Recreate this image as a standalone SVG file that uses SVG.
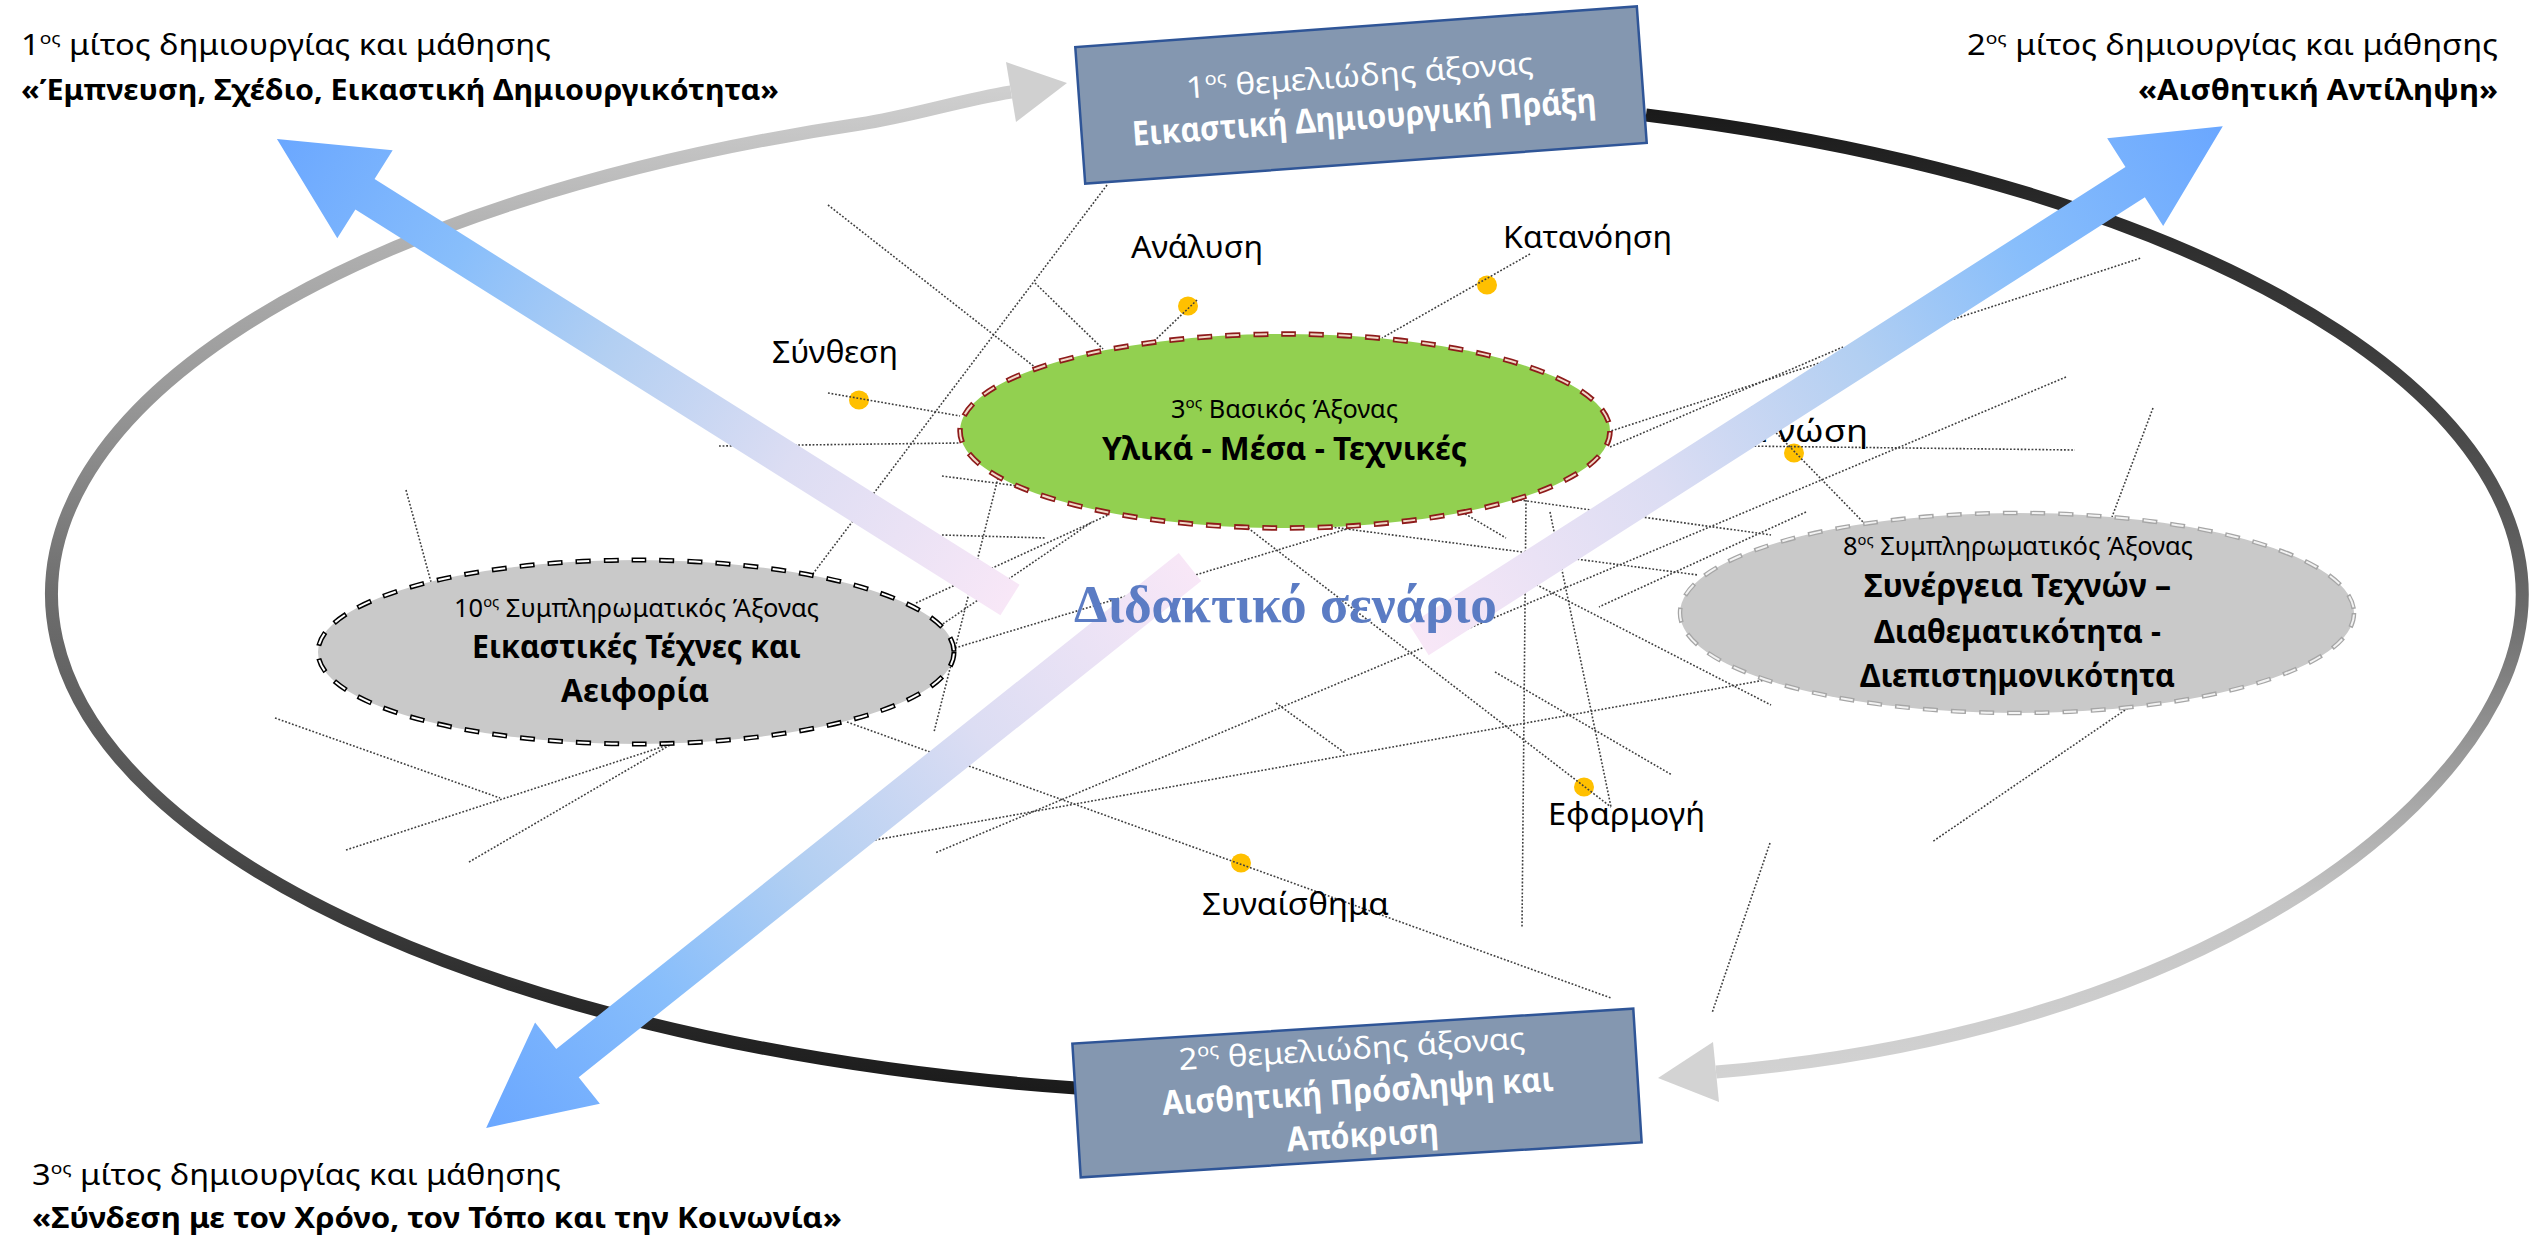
<svg xmlns="http://www.w3.org/2000/svg" width="2537" height="1237" viewBox="0 0 2537 1237">
<style>
.t{font-family:"Noto Sans","Open Sans","DejaVu Sans",sans-serif;fill:#000}
.b{font-weight:bold}
.w{fill:#fff}
.dot{stroke:#3f3f3f;stroke-width:1.6;stroke-dasharray:1.8 1.8;fill:none}
.yd{fill:#FFC000}
.box{fill:#8497B0;stroke:#2F5597;stroke-width:2.5}
.gray{fill:#C9C9C9}
</style>
<defs>
<linearGradient id="gR" gradientUnits="userSpaceOnUse" x1="0" y1="110" x2="0" y2="1100">
<stop offset="0" stop-color="#1a1a1a"/><stop offset="0.1" stop-color="#2a2a2a"/><stop offset="0.3" stop-color="#444"/><stop offset="0.5" stop-color="#6a6a6a"/><stop offset="0.65" stop-color="#999"/><stop offset="0.8" stop-color="#c4c4c4"/><stop offset="1" stop-color="#d4d4d4"/>
</linearGradient>
<linearGradient id="gL" gradientUnits="userSpaceOnUse" x1="0" y1="1095" x2="0" y2="90">
<stop offset="0" stop-color="#1a1a1a"/><stop offset="0.1" stop-color="#2b2b2b"/><stop offset="0.3" stop-color="#555"/><stop offset="0.5" stop-color="#6e6e6e"/><stop offset="0.7" stop-color="#999"/><stop offset="0.85" stop-color="#b0b0b0"/><stop offset="1" stop-color="#cfcfcf"/>
</linearGradient>
<linearGradient id="gB" x1="0" y1="0" x2="1" y2="0">
<stop offset="0" stop-color="#F8E7F7"/><stop offset="0.3" stop-color="#DCDDF3"/><stop offset="0.55" stop-color="#B2CFF2"/><stop offset="0.75" stop-color="#88BEFB"/><stop offset="1" stop-color="#6AA7FF"/>
</linearGradient>
</defs>
<rect width="2537" height="1237" fill="#fff"/>

<g id="ring-arrows">
<path d="M 1646 115 A 1234 501 0 0 1 2504 680 C 2433 845 2164 1034 1716 1072" fill="none" stroke="url(#gR)" stroke-width="13"/>
<polygon points="1658,1078 1713,1042 1719,1102" fill="#D3D3D3"/>
<path d="M 1076 1088 A 1234 501 0 0 1 860 124 C 910 116.5 961 100 1011 92" fill="none" stroke="url(#gL)" stroke-width="13"/>
<polygon points="1067,83 1006,62 1016,122" fill="#D0D0D0"/>
</g>

<g id="dots">
<ellipse class="yd" cx="859" cy="400" rx="10" ry="9.5"/>
<ellipse class="yd" cx="1188" cy="306" rx="10" ry="9.5"/>
<ellipse class="yd" cx="1487" cy="285" rx="10" ry="9.5"/>
<ellipse class="yd" cx="1794" cy="453" rx="10" ry="9.5"/>
<ellipse class="yd" cx="1584" cy="787" rx="10" ry="9.5"/>
<ellipse class="yd" cx="1241" cy="863" rx="10" ry="9.5"/>
</g>

<g id="connectors">
<line class="dot" x1="1107" y1="185" x2="812" y2="575"/>
<line class="dot" x1="828" y1="205" x2="1036" y2="368"/>
<line class="dot" x1="1035" y1="283" x2="1103" y2="349"/>
<line class="dot" x1="1197" y1="300" x2="1150" y2="345"/>
<line class="dot" x1="1530" y1="254" x2="1382" y2="338"/>
<line class="dot" x1="828" y1="393" x2="960" y2="416"/>
<line class="dot" x1="719" y1="446" x2="960" y2="443"/>
<line class="dot" x1="942" y1="476" x2="1698" y2="575"/>
<line class="dot" x1="1740" y1="446" x2="2075" y2="450"/>
<line class="dot" x1="1751" y1="407" x2="1864" y2="523"/>
<line class="dot" x1="2066" y1="377" x2="935" y2="853"/>
<line class="dot" x1="1806" y1="512" x2="1599" y2="607"/>
<line class="dot" x1="2153" y1="408" x2="2112" y2="517"/>
<line class="dot" x1="1520" y1="500" x2="1771" y2="535"/>
<line class="dot" x1="1526" y1="500" x2="1522" y2="927"/>
<line class="dot" x1="1550" y1="512" x2="1611" y2="807"/>
<line class="dot" x1="1248" y1="528" x2="1611" y2="807"/>
<line class="dot" x1="1495" y1="672" x2="1672" y2="775"/>
<line class="dot" x1="1533" y1="583" x2="1771" y2="705"/>
<line class="dot" x1="875" y1="840" x2="1765" y2="680"/>
<line class="dot" x1="847" y1="722" x2="1611" y2="998"/>
<line class="dot" x1="1276" y1="703" x2="1345" y2="753"/>
<line class="dot" x1="1770" y1="843" x2="1712" y2="1013"/>
<line class="dot" x1="2128" y1="708" x2="1932" y2="842"/>
<line class="dot" x1="1608" y1="432" x2="2141" y2="258"/>
<line class="dot" x1="1610" y1="447" x2="1843" y2="347"/>
<line class="dot" x1="942" y1="535" x2="1046" y2="538"/>
<line class="dot" x1="998" y1="478" x2="934" y2="732"/>
<line class="dot" x1="916" y1="603" x2="1108" y2="515"/>
<line class="dot" x1="955" y1="648" x2="1360" y2="525"/>
<line class="dot" x1="937" y1="628" x2="1092" y2="522"/>
<line class="dot" x1="406" y1="490" x2="431" y2="582"/>
<line class="dot" x1="275" y1="718" x2="500" y2="798"/>
<line class="dot" x1="346" y1="850" x2="674" y2="743"/>
<line class="dot" x1="469" y1="862" x2="670" y2="745"/>
<line class="dot" x1="1462" y1="512" x2="1506" y2="538"/>
</g>

<g id="node-basic3">
<ellipse cx="1285" cy="431" rx="325" ry="97" fill="#92D050" stroke="#8E1B1B" stroke-width="5.5" stroke-dasharray="15 13"/>
<ellipse cx="1285" cy="431" rx="325" ry="97" fill="none" stroke="#F0D9C8" stroke-width="2" stroke-dasharray="12 16" stroke-dashoffset="-1.5"/>
<text class="t" x="1171" y="418" font-size="25" textLength="227" lengthAdjust="spacingAndGlyphs">3<tspan font-size="15" baseline-shift="super">ος</tspan> Βασικός Άξονας</text>
<text class="t b" x="1102" y="460" font-size="33" textLength="365" lengthAdjust="spacingAndGlyphs">Υλικά - Μέσα - Τεχνικές</text>
</g>

<g id="node-supp10">
<ellipse cx="636" cy="652" rx="318" ry="92" class="gray" stroke="#000" stroke-width="5" stroke-dasharray="15 13"/>
<ellipse cx="636" cy="652" rx="318" ry="92" fill="none" stroke="#fff" stroke-width="2" stroke-dasharray="12 16" stroke-dashoffset="-1.5"/>
<text class="t" x="454" y="617" font-size="26" textLength="365" lengthAdjust="spacingAndGlyphs">10<tspan font-size="15" baseline-shift="super">ος</tspan> Συμπληρωματικός Άξονας</text>
<text class="t b" x="472" y="658" font-size="33" textLength="329" lengthAdjust="spacingAndGlyphs">Εικαστικές Τέχνες και</text>
<text class="t b" x="561" y="702" font-size="33" textLength="148" lengthAdjust="spacingAndGlyphs">Αειφορία</text>
</g>

<g id="node-supp8">
<ellipse cx="2017" cy="613" rx="337" ry="100" class="gray" stroke="#A6A6A6" stroke-width="4.5" stroke-dasharray="15 13"/>
<ellipse cx="2017" cy="613" rx="337" ry="100" fill="none" stroke="#F2F2F2" stroke-width="2" stroke-dasharray="12 16" stroke-dashoffset="-1.5"/>
<text class="t" x="1843" y="555" font-size="26" textLength="350" lengthAdjust="spacingAndGlyphs">8<tspan font-size="15" baseline-shift="super">ος</tspan> Συμπληρωματικός Άξονας</text>
<text class="t b" x="1864" y="597" font-size="33" textLength="307" lengthAdjust="spacingAndGlyphs">Συνέργεια Τεχνών –</text>
<text class="t b" x="1874" y="643" font-size="33" textLength="287" lengthAdjust="spacingAndGlyphs">Διαθεματικότητα -</text>
<text class="t b" x="1860" y="687" font-size="33" textLength="315" lengthAdjust="spacingAndGlyphs">Διεπιστημονικότητα</text>
</g>

<g id="labels">
<text class="t" x="1131" y="258" font-size="31" textLength="132" lengthAdjust="spacingAndGlyphs">Ανάλυση</text>
<text class="t" x="1503" y="248" font-size="31" textLength="169" lengthAdjust="spacingAndGlyphs">Κατανόηση</text>
<text class="t" x="772" y="363" font-size="31" textLength="126" lengthAdjust="spacingAndGlyphs">Σύνθεση</text>
<text class="t" x="1759" y="442" font-size="31" textLength="109" lengthAdjust="spacingAndGlyphs">Γνώση</text>
<text class="t" x="1548" y="825" font-size="31" textLength="157" lengthAdjust="spacingAndGlyphs">Εφαρμογή</text>
<text class="t" x="1202" y="915" font-size="31" textLength="187" lengthAdjust="spacingAndGlyphs">Συναίσθημα</text>
</g>

<g id="threads">
<g id="thread1" transform="translate(1010,600) rotate(212.17)">
<polygon points="0,-18 762,-18 762,-52 866,0 762,52 762,18 0,18" fill="url(#gB)"/>
</g>
<g id="thread2" transform="translate(1419,640) rotate(-32.59)">
<polygon points="0,-18 850,-18 850,-52 954,0 850,52 850,18 0,18" fill="url(#gB)"/>
</g>
<g id="thread3" transform="translate(1190,567) rotate(141.45)">
<polygon points="0,-18 796,-18 796,-52 900,0 796,52 796,18 0,18" fill="url(#gB)"/>
</g>
</g>

<g id="node-axis1" transform="translate(1361,95) rotate(-4.15)">
<rect class="box" x="-281.5" y="-68.5" width="563" height="137"/>
<text class="t w" x="-174" y="-9" font-size="30" textLength="348" lengthAdjust="spacingAndGlyphs">1<tspan font-size="18" baseline-shift="super">ος</tspan> θεμελιώδης άξονας</text>
<text class="t b w" x="-231" y="34" font-size="34" textLength="465" lengthAdjust="spacingAndGlyphs">Εικαστική Δημιουργική Πράξη</text>
</g>

<g id="node-axis2" transform="translate(1357,1093) rotate(-3.57)">
<rect class="box" x="-281" y="-67" width="562" height="134"/>
<text class="t w" x="-176" y="-34" font-size="30" textLength="347" lengthAdjust="spacingAndGlyphs">2<tspan font-size="18" baseline-shift="super">ος</tspan> θεμελιώδης άξονας</text>
<text class="t b w" x="-195" y="10" font-size="34" textLength="392" lengthAdjust="spacingAndGlyphs">Αισθητική Πρόσληψη και</text>
<text class="t b w" x="-73" y="54" font-size="34" textLength="152" lengthAdjust="spacingAndGlyphs">Απόκριση</text>
</g>

<g id="node-thread-titles">
<text class="t" x="21" y="55" font-size="29" textLength="530" lengthAdjust="spacingAndGlyphs">1<tspan font-size="17" baseline-shift="super">ος</tspan> μίτος δημιουργίας και μάθησης</text>
<text class="t b" x="21" y="100" font-size="29" textLength="758" lengthAdjust="spacingAndGlyphs">«Έμπνευση, Σχέδιο, Εικαστική Δημιουργικότητα»</text>
<text class="t" x="1967" y="55" font-size="29" textLength="531" lengthAdjust="spacingAndGlyphs">2<tspan font-size="17" baseline-shift="super">ος</tspan> μίτος δημιουργίας και μάθησης</text>
<text class="t b" x="2138" y="100" font-size="29" textLength="360" lengthAdjust="spacingAndGlyphs">«Αισθητική Αντίληψη»</text>
<text class="t" x="32" y="1185" font-size="29" textLength="529" lengthAdjust="spacingAndGlyphs">3<tspan font-size="17" baseline-shift="super">ος</tspan> μίτος δημιουργίας και μάθησης</text>
<text class="t b" x="32" y="1228" font-size="29" textLength="810" lengthAdjust="spacingAndGlyphs">«Σύνδεση με τον Χρόνο, τον Τόπο και την Κοινωνία»</text>
</g>

<g id="node-center">
<text x="1074" y="622" font-family="'Liberation Serif','Times New Roman',serif" font-weight="bold" font-size="53" fill="#5B7CC4" textLength="423" lengthAdjust="spacingAndGlyphs">Διδακτικό σενάριο</text>
</g>
</svg>
